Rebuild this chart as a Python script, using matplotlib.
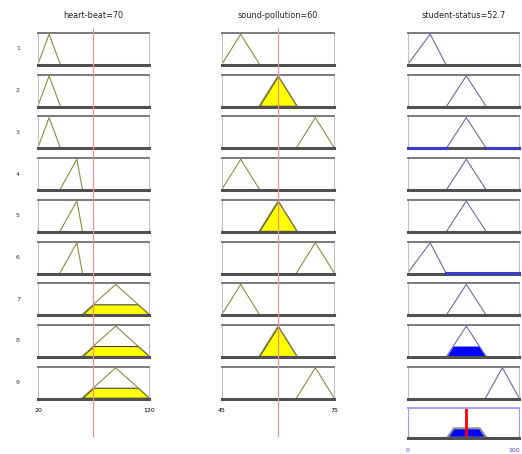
import numpy as np
import matplotlib
matplotlib.use("Agg")
import matplotlib.pyplot as plt

# variables: ranges and membership functions (triangles a, b, c)
hb_range = [20, 120]
hb_mfs = [[20, 30, 40], [40, 55, 60], [60, 90, 120]]
hb_input = 70

sp_range = [45, 75]
sp_mfs = [[45, 50, 55], [55, 60, 65], [65, 70, 75]]
sp_input = 60

ss_range = [0, 100]
ss_mfs = [[0, 20, 34], [35, 52.5, 70], [70, 85, 100]]
ss_output = 52.7

# rules: index of mf for heart-beat, sound-pollution, student-status
rule_hb = [0, 0, 0, 1, 1, 1, 2, 2, 2]
rule_sp = [0, 1, 2, 0, 1, 2, 0, 1, 2]
rule_ss = [0, 1, 1, 1, 1, 0, 1, 1, 2]
blue_base_rows = [2, 5]

W, H = 522, 454
fig = plt.figure(figsize=(W / 100, H / 100), dpi=100)
plt.rcParams['font.family'] = ['DejaVu Sans']

col_left = [38, 222, 408]
col_width = [111, 112, 111]
row_top0 = 33
row_step = 41.7
row_h = 32
in_color = '#8c8c40'
out_color = '#6a6aa8'


def px_axes(left, top, w, h):
    return fig.add_axes([left / W, 1 - (top + h) / H, w / W, h / H])


def tri(x, p):
    return np.interp(x, p, [0, 1, 0])


def style_panel(ax, rng, edge='#707070'):
    ax.set_xlim(rng)
    ax.set_ylim(-0.03, 1.04)
    ax.set_xticks([])
    ax.set_yticks([])
    ax.spines['top'].set_color(edge)
    ax.spines['top'].set_linewidth(1.3)
    ax.spines['left'].set_color('#c0c0c0')
    ax.spines['right'].set_color('#c0c0c0')
    ax.spines['bottom'].set_color('#505050')
    ax.spines['bottom'].set_linewidth(2.2)


strengths = []
for i in range(9):
    top = row_top0 + i * row_step
    fig.text(18 / W, 1 - (top + row_h / 2) / H, str(i + 1), fontsize=4.5,
             ha='center', va='center', color='#333333')
    mu = []
    for c, (rng, mfs, idx, val) in enumerate([(hb_range, hb_mfs, rule_hb, hb_input),
                                              (sp_range, sp_mfs, rule_sp, sp_input)]):
        ax = px_axes(col_left[c], top, col_width[c], row_h)
        style_panel(ax, rng)
        p = mfs[idx[i]]
        x = np.linspace(rng[0], rng[1], 400)
        y = tri(x, p)
        m = float(tri(val, p))
        mu.append(m)
        if m > 0:
            ax.fill_between(x, 0, np.minimum(y, m), where=y > 0, color='#ffff00',
                            edgecolor='#404040', linewidth=0.8)
        ax.plot(p, [0, 1, 0], color=in_color, lw=0.8)
    w = min(mu)
    strengths.append(w)
    ax = px_axes(col_left[2], top, col_width[2], row_h)
    style_panel(ax, ss_range)
    p = ss_mfs[rule_ss[i]]
    x = np.linspace(ss_range[0], ss_range[1], 400)
    y = tri(x, p)
    if i in blue_base_rows:
        base = np.where(y == 0, -0.01, np.nan)
        ax.plot(x, base, color='#3c3cc8', lw=2.2, zorder=5, clip_on=False)
    if w > 0:
        ax.fill_between(x, 0, np.minimum(y, w), where=y > 0, color='#0000ff', linewidth=0)
    ax.plot(p, [0, 1, 0], color=out_color, lw=0.8)

# aggregated output
agg_top = 408
ax = px_axes(col_left[2], agg_top, col_width[2], 30)
style_panel(ax, ss_range, edge='#9a9aff')
for s in ['left', 'right', 'top']:
    ax.spines[s].set_color('#9a9aff')
x = np.linspace(ss_range[0], ss_range[1], 600)
agg = np.zeros_like(x)
for i in range(9):
    agg = np.maximum(agg, np.minimum(tri(x, ss_mfs[rule_ss[i]]), strengths[i]))
ax.fill_between(x, 0, agg, where=agg > 0, color='#0000ff', edgecolor='#909090', linewidth=1.5)
ax.axvline(ss_output, color='#ff0000', lw=2)

# red input lines across the columns
for c, (rng, val) in enumerate([(hb_range, hb_input), (sp_range, sp_input)]):
    ov = px_axes(col_left[c], 28, col_width[c], 437 - 28)
    ov.set_xlim(rng)
    ov.axis('off')
    ov.patch.set_alpha(0)
    ov.axvline(val, color='#ff8c8c', lw=0.8)

# titles
titles = ['heart-beat=%g' % hb_input, 'sound-pollution=%g' % sp_input,
          'student-status=%g' % ss_output]
for c in range(3):
    fig.text((col_left[c] + col_width[c] / 2) / W, 1 - 15 / H, titles[c], fontsize=6.5,
             ha='center', va='center', fontstretch='condensed', color='#222222')

# range labels
for c, rng in enumerate([hb_range, sp_range]):
    fig.text(col_left[c] / W, 1 - 410 / H, str(rng[0]), fontsize=4.5, ha='center', va='center')
    fig.text((col_left[c] + col_width[c]) / W, 1 - 410 / H, str(rng[1]), fontsize=4.5,
             ha='center', va='center')
fig.text(col_left[2] / W, 1 - 450 / H, str(ss_range[0]), fontsize=4.5, ha='center',
         va='center', color='#4040c0')
fig.text(520 / W, 1 - 450 / H, str(ss_range[1]), fontsize=4.5,
         ha='right', va='center', color='#4040c0')

fig.savefig('out.png', dpi=100)
